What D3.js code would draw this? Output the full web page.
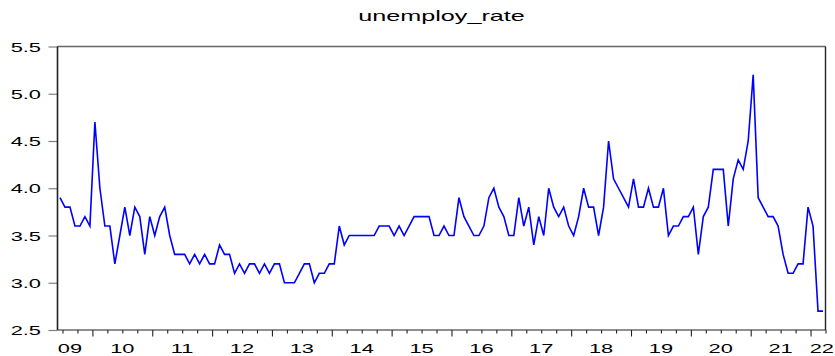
<!DOCTYPE html>
<html>
<head>
<meta charset="utf-8">
<script src="https://cdn.jsdelivr.net/npm/d3@7"></script>
<style>
  html, body { margin: 0; padding: 0; background: #fff; }
  svg { display: block; }
  text { font-family: "Liberation Sans", Arial, sans-serif; fill: #000; }
</style>
</head>
<body>
<svg id="chart" width="835" height="356"></svg>
<script>
// Monthly series, first observation June 2009
const seriesName = "unemploy_rate";
const startYear = 2009;
const startMonth = 6;

const values2009 = [3.9, 3.8, 3.8, 3.6, 3.6, 3.7, 3.6];
const values2010 = [4.7, 4.0, 3.6, 3.6, 3.2, 3.5, 3.8, 3.5, 3.8, 3.7, 3.3, 3.7];
const values2011 = [3.5, 3.7, 3.8, 3.5, 3.3, 3.3, 3.3, 3.2, 3.3, 3.2, 3.3, 3.2];
const values2012 = [3.2, 3.4, 3.3, 3.3, 3.1, 3.2, 3.1, 3.2, 3.2, 3.1, 3.2, 3.1];
const values2013 = [3.2, 3.2, 3.0, 3.0, 3.0, 3.1, 3.2, 3.2, 3.0, 3.1, 3.1, 3.2];
const values2014 = [3.2, 3.6, 3.4, 3.5, 3.5, 3.5, 3.5, 3.5, 3.5, 3.6, 3.6, 3.6];
const values2015 = [3.5, 3.6, 3.5, 3.6, 3.7, 3.7, 3.7, 3.7, 3.5, 3.5, 3.6, 3.5];
const values2016 = [3.5, 3.9, 3.7, 3.6, 3.5, 3.5, 3.6, 3.9, 4.0, 3.8, 3.7, 3.5];
const values2017 = [3.5, 3.9, 3.6, 3.8, 3.4, 3.7, 3.5, 4.0, 3.8, 3.7, 3.8, 3.6];
const values2018 = [3.5, 3.7, 4.0, 3.8, 3.8, 3.5, 3.8, 4.5, 4.1, 4.0, 3.9, 3.8];
const values2019 = [4.1, 3.8, 3.8, 4.0, 3.8, 3.8, 4.0, 3.5, 3.6, 3.6, 3.7, 3.7];
const values2020 = [3.8, 3.3, 3.7, 3.8, 4.2, 4.2, 4.2, 3.6, 4.1, 4.3, 4.2, 4.5];
const values2021 = [5.2, 3.9, 3.8, 3.7, 3.7, 3.6, 3.3, 3.1, 3.1, 3.2, 3.2, 3.8];
const values2022 = [3.6, 2.7, 2.7];

const values = [].concat(values2009, values2010, values2011, values2012, values2013,
  values2014, values2015, values2016, values2017, values2018, values2019,
  values2020, values2021, values2022);

const yTicks = [2.5, 3.0, 3.5, 4.0, 4.5, 5.0, 5.5];
const yearLabels = ["09", "10", "11", "12", "13", "14", "15", "16", "17", "18", "19", "20", "21", "22"];

// Layout
const W = 835, H = 356;
const plot = { left: 57.5, right: 825.5, top: 46.5, bottom: 330 };
const textStretch = 1.68;   // glyphs are drawn horizontally widened
const labelSize = 13, titleSize = 15;

const svg = d3.select("#chart");
svg.append("rect").attr("width", W).attr("height", H).attr("fill", "#fff");

// x: month slots, slot i spans [i, i+1], observation drawn at its centre
const n = values.length;
const x = d3.scaleLinear().domain([0, n]).range([plot.left, plot.right]);
const y = d3.scaleLinear().domain([2.5, 5.5]).range([plot.bottom, plot.top]);

// month-of-year (0..11) at slot boundary b
const monthAt = b => (startMonth - 1 + b) % 12;

// helper for widened text
function wideText(g, px, py, str, size, anchor) {
  return g.append("text")
    .attr("transform", `translate(${px},${py}) scale(${textStretch},1)`)
    .attr("text-anchor", anchor)
    .attr("font-size", size)
    .text(str);
}

// Y axis ticks (outward, grey)
const yAxis = d3.axisLeft(y).tickValues(yTicks).tickSize(9).tickPadding(0).tickFormat("");
const gy = svg.append("g").attr("transform", `translate(${plot.left},0)`).call(yAxis);
gy.select(".domain").remove();
gy.selectAll(".tick line").attr("stroke", "#808080").attr("stroke-width", 1.2);
gy.selectAll(".tick").each(function (d) {
  wideText(d3.select(this), -16.5, 0, d3.format(".1f")(d), labelSize, "end")
    .attr("dy", "0.36em");
});

// X axis ticks: quarterly, longer at year starts
const quarterBounds = d3.range(0, n + 1).filter(b => monthAt(b) % 3 === 0);
const xAxis = d3.axisBottom(x).tickValues(quarterBounds).tickSize(3.5).tickFormat("");
const gx = svg.append("g").attr("transform", `translate(0,${plot.bottom})`).call(xAxis);
gx.select(".domain").remove();
gx.selectAll(".tick line")
  .attr("stroke", "#222")
  .attr("stroke-width", 1.1)
  .attr("y2", d => monthAt(d) === 0 ? 6.5 : 3.5);

// Year labels, centred on the visible part of each year;
// the last (partial) year is pushed against the right edge
const yearStarts = d3.range(0, n + 1).filter(b => monthAt(b) === 0);
const bounds = [0].concat(yearStarts);
const gLab = svg.append("g");
yearLabels.forEach((lab, k) => {
  const b0 = bounds[k];
  const b1 = k + 1 < bounds.length ? bounds[k + 1] : null;
  if (b1 === null) {
    wideText(gLab, W - 1, 352.5, lab, labelSize, "end");
  } else {
    const cx = (x(b0) + x(b1)) / 2 - (k === 0 ? 5 : 0);
    wideText(gLab, cx, 352.5, lab, labelSize, "middle");
  }
});

// Frame
const frame = svg.append("g").attr("fill", "none");
frame.append("line").attr("x1", plot.left).attr("x2", plot.right)
  .attr("y1", plot.top).attr("y2", plot.top).attr("stroke", "#666").attr("stroke-width", 1.4);
frame.append("line").attr("x1", plot.right).attr("x2", plot.right)
  .attr("y1", plot.top).attr("y2", plot.bottom).attr("stroke", "#222").attr("stroke-width", 1.4);
frame.append("line").attr("x1", plot.left).attr("x2", plot.right)
  .attr("y1", plot.bottom).attr("y2", plot.bottom).attr("stroke", "#222").attr("stroke-width", 1.2);
frame.append("line").attr("x1", plot.left).attr("x2", plot.left)
  .attr("y1", plot.top).attr("y2", plot.bottom).attr("stroke", "#222").attr("stroke-width", 1.6);

// Series line
const line = d3.line()
  .x((d, i) => x(i + 0.5))
  .y(d => y(d));
svg.append("path")
  .datum(values)
  .attr("fill", "none")
  .attr("stroke", "#0000ff")
  .attr("stroke-width", 1.6)
  .attr("stroke-linejoin", "miter")
  .attr("d", line);

// Title
wideText(svg, (plot.left + plot.right) / 2, 21, seriesName, titleSize, "middle");
</script>
</body>
</html>
